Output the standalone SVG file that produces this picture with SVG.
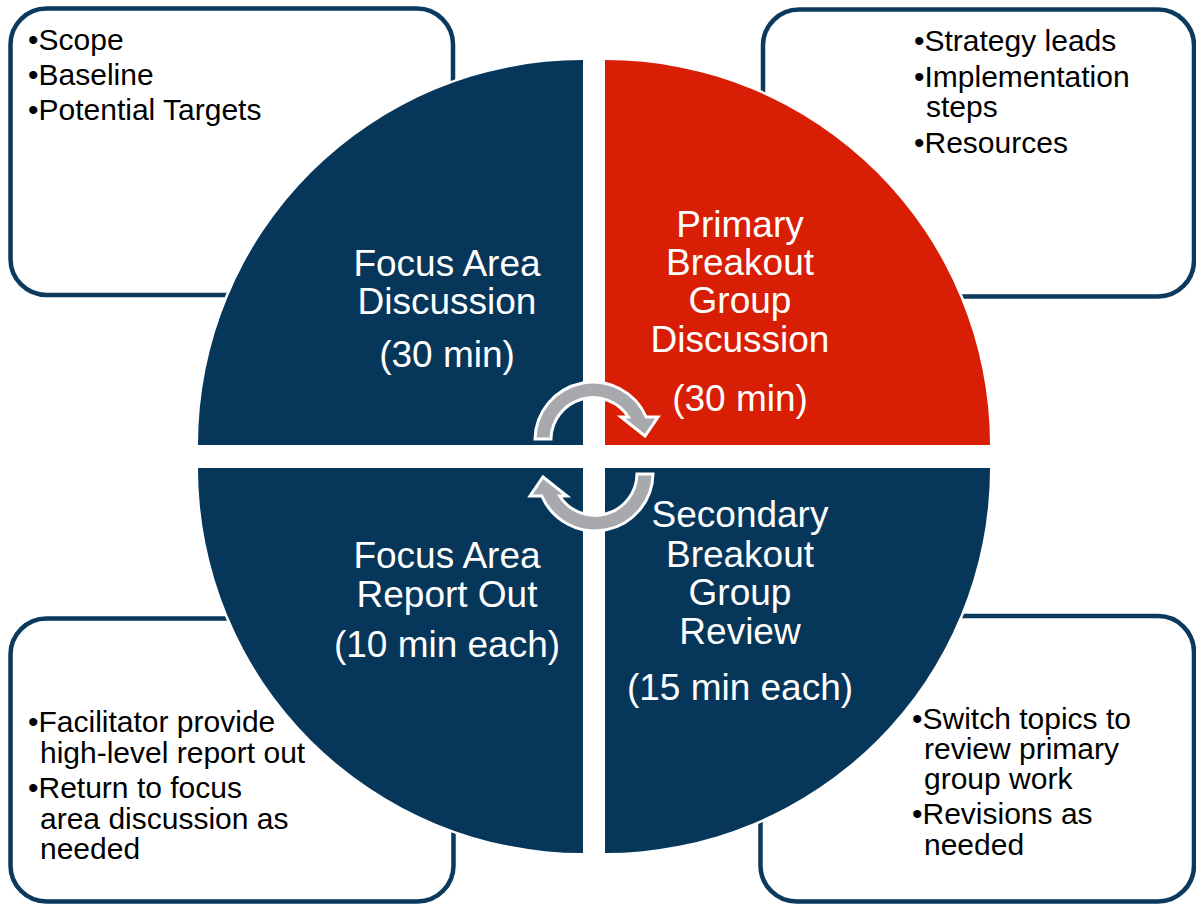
<svg xmlns="http://www.w3.org/2000/svg" width="1196" height="905" viewBox="0 0 1196 905">
<style>
.box{fill:#fff;stroke:#0b3a5e;stroke-width:4.5}
.q{stroke:#fff;stroke-width:5;paint-order:stroke}
.navy{fill:#063659}
.red{fill:#d81e05}
.bt{font-family:"Liberation Sans",Arial,sans-serif;font-size:30px;fill:#000}
.qt{font-family:"Liberation Sans",Arial,sans-serif;font-size:37px;fill:#fff;text-anchor:middle}
.arr{fill:#a7a9ad;stroke:#fff;stroke-width:3;stroke-linejoin:miter}
</style>
<rect width="1196" height="905" fill="#fff"/>
<g id="box-tl">
<rect class="box" x="10.5" y="8.5" width="442.5" height="286.5" rx="36"/>
<text class="bt"><tspan x="28" y="50">•Scope</tspan><tspan x="28" y="85">•Baseline</tspan><tspan x="28" y="120">•Potential Targets</tspan></text>
</g>
<g id="box-tr">
<rect class="box" x="763" y="9.5" width="431" height="287" rx="36"/>
<text class="bt"><tspan x="914" y="51">•Strategy leads</tspan><tspan x="914" y="87">•Implementation</tspan><tspan x="926" y="117">steps</tspan><tspan x="914" y="153">•Resources</tspan></text>
</g>
<g id="box-bl">
<rect class="box" x="10.5" y="618.5" width="443" height="283" rx="36"/>
<text class="bt"><tspan x="28" y="732">•Facilitator provide</tspan><tspan x="40" y="763">high-level report out</tspan><tspan x="28" y="798">•Return to focus</tspan><tspan x="40" y="829">area discussion as</tspan><tspan x="40" y="859">needed</tspan></text>
</g>
<g id="box-br">
<rect class="box" x="760.5" y="616" width="433.5" height="285.5" rx="36"/>
<text class="bt"><tspan x="912" y="729">•Switch topics to</tspan><tspan x="924" y="759">review primary</tspan><tspan x="924" y="789">group work</tspan><tspan x="912" y="824">•Revisions as</tspan><tspan x="924" y="855">needed</tspan></text>
</g>
<g id="q-tl">
<path class="q navy" d="M583,445 L198,445 A385,385 0 0 1 583,60 Z"/>
<text class="qt"><tspan x="447" y="276">Focus Area</tspan><tspan x="447" y="314">Discussion</tspan><tspan x="447" y="367">(30 min)</tspan></text>
</g>
<g id="q-tr">
<path class="q red" d="M605,445 L605,60 A385,385 0 0 1 990,445 Z"/>
<text class="qt"><tspan x="740" y="237">Primary</tspan><tspan x="740" y="275">Breakout</tspan><tspan x="740" y="313">Group</tspan><tspan x="740" y="352">Discussion</tspan><tspan x="740" y="411">(30 min)</tspan></text>
</g>
<g id="q-bl">
<path class="q navy" d="M583,468 L583,853 A385,385 0 0 1 198,468 Z"/>
<text class="qt"><tspan x="447" y="568">Focus Area</tspan><tspan x="447" y="607">Report Out</tspan><tspan x="447" y="657">(10 min each)</tspan></text>
</g>
<g id="q-br">
<path class="q navy" d="M605,468 L990,468 A385,385 0 0 1 605,853 Z"/>
<text class="qt"><tspan x="740" y="527">Secondary</tspan><tspan x="740" y="567">Breakout</tspan><tspan x="740" y="605">Group</tspan><tspan x="740" y="644">Review</tspan><tspan x="740" y="700">(15 min each)</tspan></text>
</g>
<g id="connectors">
<path id="arrow-top" class="arr" d="M535,439 A58,58 0 0 1 646.2,417 L658,417 L645,436 L621,417 L628.4,417 A42,42 0 0 0 551,439 Z"/>
<path id="arrow-bottom" class="arr" transform="rotate(180 594 456.5)" d="M535,439 A58,58 0 0 1 646.2,417 L658,417 L645,436 L621,417 L628.4,417 A42,42 0 0 0 551,439 Z"/>
</g>
</svg>
